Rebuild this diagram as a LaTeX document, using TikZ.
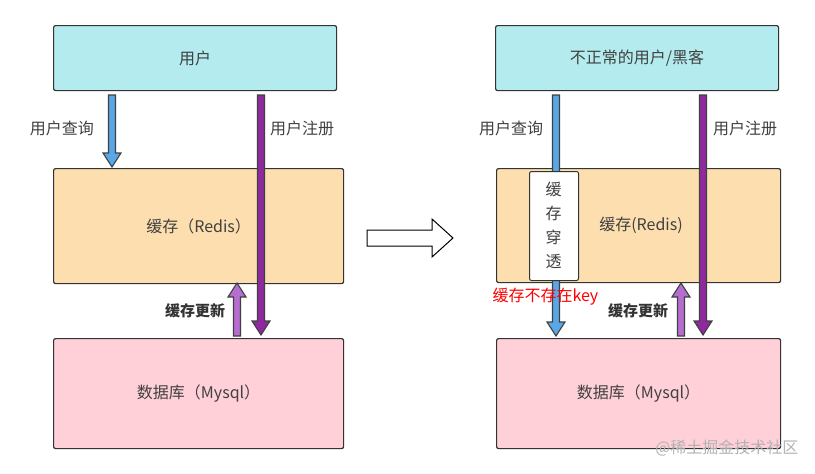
\documentclass[tikz,border=0pt]{standalone}
\usepackage{fontspec}
\setmainfont{Noto Sans CJK SC}
\begin{document}
\begin{tikzpicture}[x=1pt,y=-1pt,
  box/.style={draw=black!80,line width=1.2pt,rounded corners=2pt},
  lbl/.style={font=\fontsize{16}{18}\selectfont,text=black!75}]
\useasboundingbox (0,0) rectangle (815,474);
\definecolor{cyanf}{HTML}{B3EBEE}
\definecolor{orf}{HTML}{FDDFAF}
\definecolor{pkf}{HTML}{FFD0D8}
\definecolor{bl}{HTML}{5AA6E6}
\definecolor{pu}{HTML}{8E2A9E}
\definecolor{lpu}{HTML}{B66DD0}
% block arrow: x, y-start, y-tip, color
\newcommand\barr[4]{\filldraw[fill=#4,draw=black!75,line width=1.1pt,line join=miter]
 ({#1-3.5},#2) -- ({#1+3.5},#2) -- ({#1+3.5},{#3-14*sign(#3-#2)}) -- ({#1+9},{#3-14*sign(#3-#2)}) -- (#1,#3)
 -- ({#1-9},{#3-14*sign(#3-#2)}) -- ({#1-3.5},{#3-14*sign(#3-#2)}) -- cycle;}
% left
\node[box,fill=cyanf,minimum width=283,minimum height=65,anchor=north west,lbl] (lu) at (53,25) {用户};
\node[box,fill=orf,minimum width=290,minimum height=115,anchor=north west,lbl] (lc) at (53,168) {缓存（Redis）};
\node[box,fill=pkf,minimum width=290,minimum height=110,anchor=north west,lbl] (ld) at (53,338) {数据库（Mysql）};
\barr{112}{95}{167}{bl}
\barr{261}{95}{335}{pu}
\barr{237}{336}{283}{lpu}
\node[lbl,anchor=center] at (62,128) {用户查询};
\node[lbl,anchor=center] at (302,128) {用户注册};
\node[lbl,font=\bfseries\fontsize{15}{17}\selectfont,text=black!80] at (195,311) {缓存更新};
% middle arrow
\draw[line width=1pt,fill=white] (367,230) -- (432,230) -- (432,219) -- (453,238) -- (432,257) -- (432,246) -- (367,246) -- cycle;
% right
\node[box,fill=cyanf,minimum width=283,minimum height=65,anchor=north west,lbl] (ru) at (495,25) {不正常的用户/黑客};
\node[box,fill=orf,minimum width=284,minimum height=114,anchor=north west,lbl] (rc) at (496,168) {};
\node[lbl] at (641,225) {缓存(Redis)};
\node[box,fill=pkf,minimum width=284,minimum height=110,anchor=north west,lbl] (rd) at (496,338) {数据库（Mysql）};
\barr{556}{95}{336}{bl}
\barr{703}{95}{335}{pu}
\barr{681}{336}{283}{lpu}
\node[box,fill=white,line width=1pt,minimum width=49,minimum height=109,anchor=north west] (ct) at (529,171) {};
\node[lbl,align=center,font=\fontsize{16}{24}\selectfont] at (553.5,225.5) {缓\\存\\穿\\透};
\node[lbl,anchor=center] at (511,128) {用户查询};
\node[lbl,anchor=center] at (745,128) {用户注册};
\node[font=\fontsize{16}{18}\selectfont,text=red,anchor=west] at (489,297) {缓存不存在key};
\node[lbl,font=\bfseries\fontsize{15}{17}\selectfont,text=black!80] at (638,311) {缓存更新};
\node[font=\fontsize{16}{18}\selectfont,text=black!30,anchor=east] at (802,448) {@稀土掘金技术社区};
\end{tikzpicture}
\end{document}
